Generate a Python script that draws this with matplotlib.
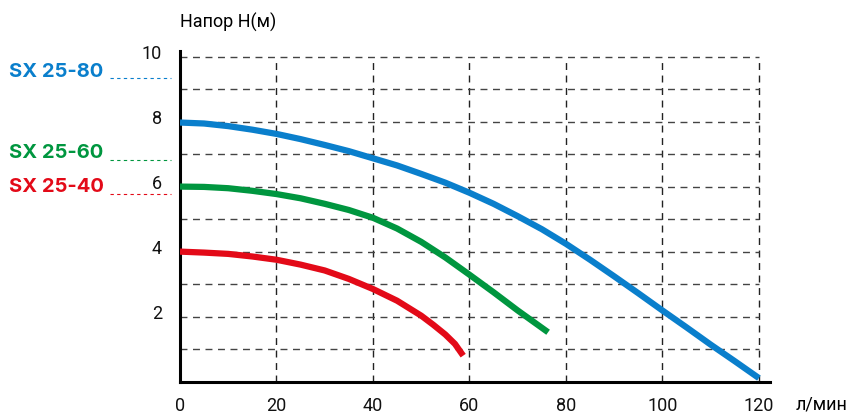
import matplotlib
matplotlib.use("Agg")
import matplotlib.pyplot as plt
import matplotlib.transforms as mtransforms
from matplotlib.lines import Line2D

plt.rcParams['font.family'] = ['Roboto', 'DejaVu Sans']

# pump curves: flow (l/min) vs head (m)
flow_80 = [0, 5, 10, 15, 20, 25, 30, 35, 40, 45, 50, 55, 60, 65, 70, 75, 80,
           85, 90, 95, 100, 105, 110, 115, 120]
head_80 = [7.98, 7.95, 7.87, 7.76, 7.63, 7.47, 7.29, 7.1, 6.88, 6.66, 6.4, 6.13,
           5.82, 5.48, 5.1, 4.7, 4.25, 3.76, 3.25, 2.73, 2.2, 1.68, 1.15, 0.64, 0.12]

flow_60 = [0, 5, 10, 15, 20, 25, 30, 35, 40, 45, 50, 55, 60, 65, 70, 76.3]
head_60 = [6.01, 6.0, 5.96, 5.88, 5.78, 5.65, 5.48, 5.29, 5.05, 4.72, 4.31, 3.83,
           3.3, 2.76, 2.2, 1.53]

flow_40 = [0, 5, 10, 15, 20, 25, 30, 35, 40, 45, 50, 52.5, 55, 57, 58.7]
head_40 = [4.01, 3.98, 3.94, 3.86, 3.76, 3.61, 3.43, 3.17, 2.86, 2.5, 2.04, 1.76,
           1.46, 1.17, 0.81]

names = ["SX 25-80", "SX 25-60", "SX 25-40"]
colors = ["#0a7fcc", "#00963f", "#e30a18"]

x_ticks = [0, 20, 40, 60, 80, 100, 120]
y_ticks = [2, 4, 6, 8, 10]

W, H = 855, 414
fig = plt.figure(figsize=(W / 100, H / 100), dpi=100)
ax = fig.add_axes([180 / W, 31 / H, 590 / W, 331 / H])
ax.set_xlim(0, 122.3)
ax.set_ylim(0, 10.18)

# dashed grid, every 20 l/min and every metre
for gx in x_ticks[1:]:
    ax.plot([gx, gx], [0, 10], color="#222222", lw=1, ls=(0, (5, 4)), zorder=1)
for gy in range(1, 11):
    ax.plot([0, 120], [gy, gy], color="#444444", lw=1, ls=(0, (5, 4)), zorder=1)

for fx, hy, c in [(flow_80, head_80, colors[0]), (flow_60, head_60, colors[1]),
                  (flow_40, head_40, colors[2])]:
    ax.plot(fx, hy, color=c, lw=4.5, solid_capstyle="butt",
            solid_joinstyle="round", zorder=3)

for s in ["top", "right"]:
    ax.spines[s].set_visible(False)
for s in ["left", "bottom"]:
    ax.spines[s].set_linewidth(2.2)
    ax.spines[s].set_color("black")

ax.set_xticks(x_ticks)
ax.set_yticks(y_ticks)
ax.tick_params(length=0, labelsize=13, colors="#111111")
ax.tick_params(axis="y", pad=13)
ax.tick_params(axis="x", pad=10)
offset = mtransforms.ScaledTranslation(0, 6 / 100, fig.dpi_scale_trans)
for lab in ax.get_yticklabels():
    lab.set_transform(lab.get_transform() + offset)

fig.text(180 / W, 1 - 22 / H, "Напор Н(м)", ha="left", va="center", fontsize=13)
fig.text(822 / W, 1 - 405 / H, "л/мин", ha="center", va="center", fontsize=13)

# model labels with dotted leaders on the left
label_y = [72, 153, 187]
leader_y = [79, 161, 195]
for name, c, ly, dy in zip(names, colors, label_y, leader_y):
    fig.text(9 / W, 1 - ly / H, name, ha="left", va="center", fontsize=14.5,
             fontweight="bold", color=c, family=["Inter", "DejaVu Sans"])
    fig.add_artist(Line2D([110 / W, 171 / W], [1 - dy / H, 1 - dy / H],
                          transform=fig.transFigure, color=c, lw=0.8,
                          ls=(0, (3, 3))))

fig.savefig("out.png", dpi=100)
